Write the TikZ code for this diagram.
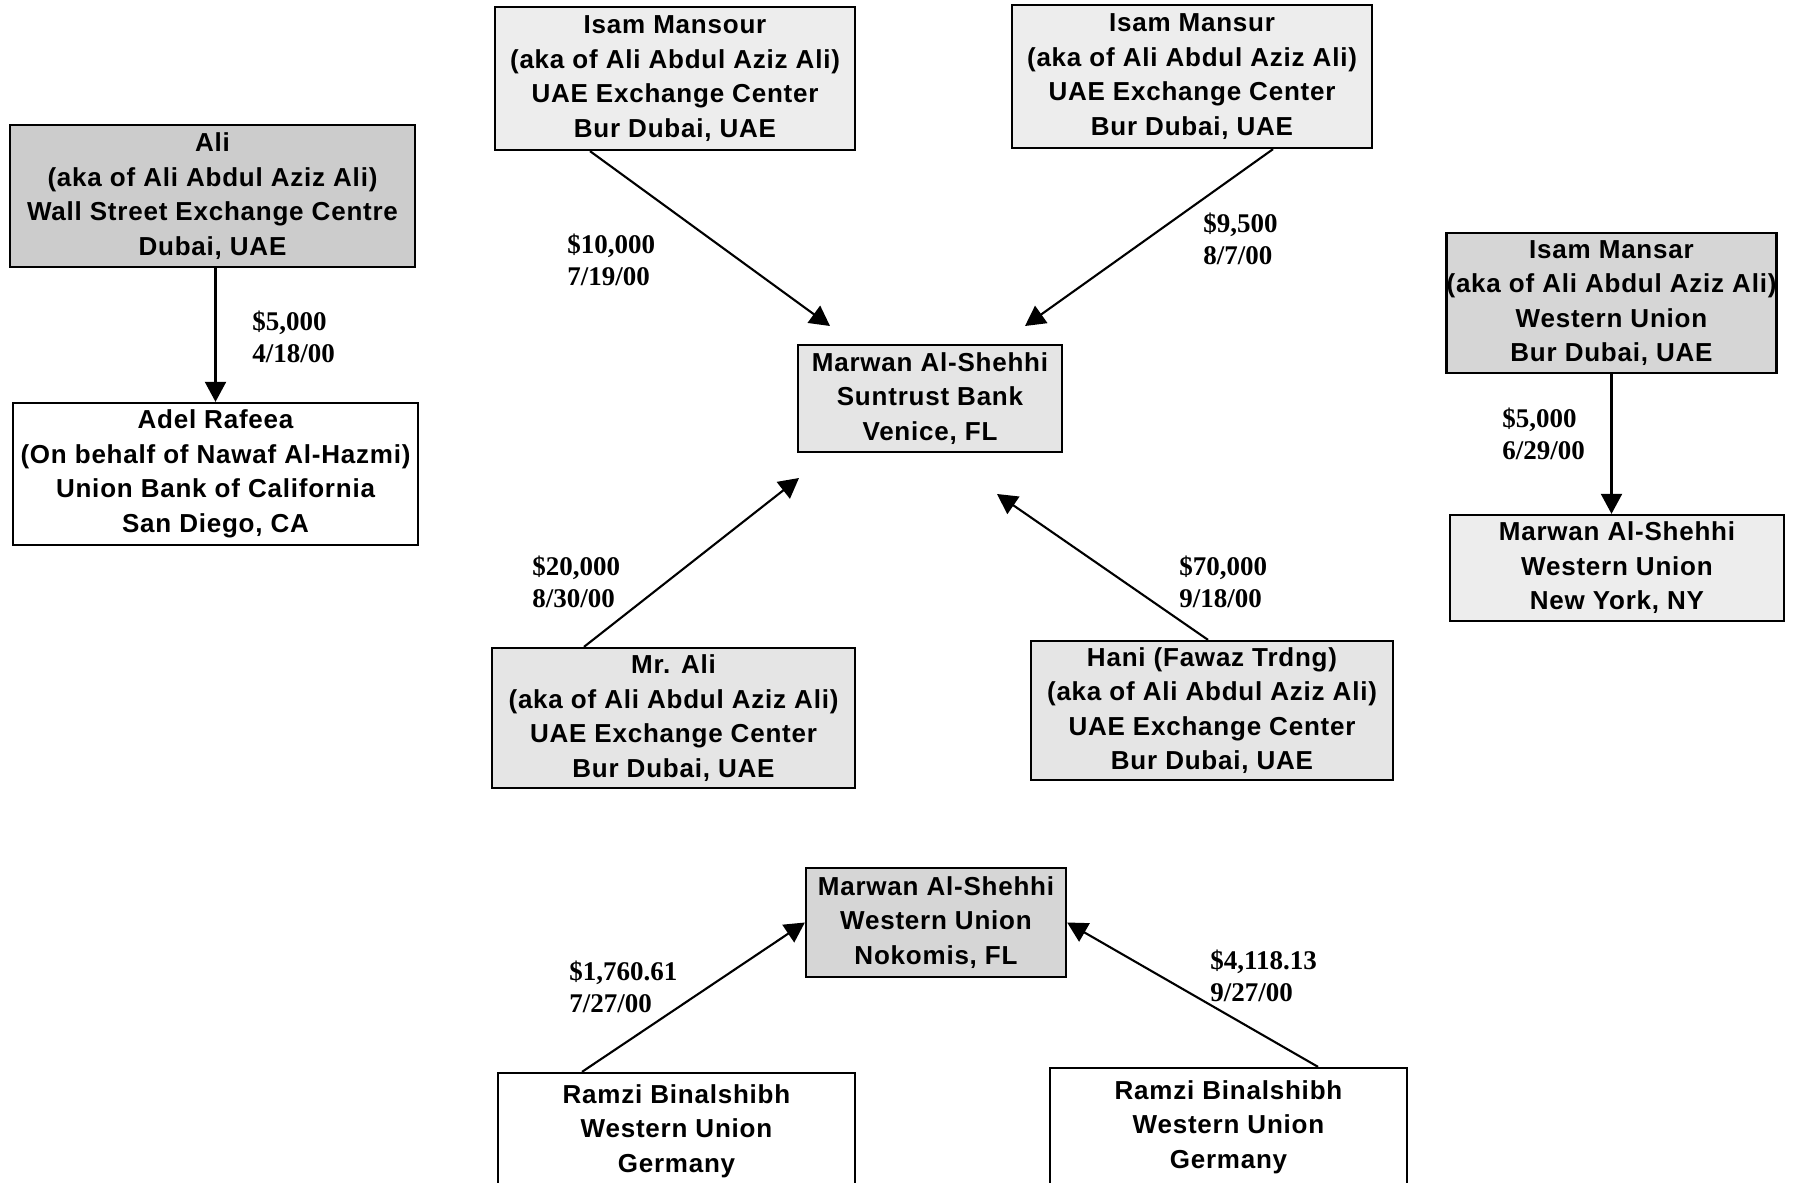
\documentclass[tikz,border=0pt]{standalone}
\usepackage{fontspec}
\setmainfont{Liberation Serif}
\newfontfamily\boxfont[LetterSpace=3]{Liberation Sans}
\usetikzlibrary{arrows.meta,calc}
\definecolor{shadeA}{gray}{0.80}
\definecolor{shadeD}{gray}{0.84}
\definecolor{shadeB}{gray}{0.90}
\definecolor{shadeC}{gray}{0.93}
\tikzset{
  box/.style={draw=black, line width=1.15pt, align=center, inner sep=0pt,
    font=\boxfont\bfseries\fontsize{13}{17.25}\selectfont},
  arr/.style={line width=1.05pt, -{Triangle[length=10pt,width=10.5pt]}},
  lbl/.style={anchor=west, align=left, inner sep=0pt,
    font=\bfseries\fontsize{13.5}{16}\selectfont},
}
\begin{document}
\begin{tikzpicture}[x=0.5pt,y=-0.5pt]
\useasboundingbox (0,0) rectangle (1795,1183);
\clip (0,0) rectangle (1795,1183);
\fill[white] (0,0) rectangle (1795,1183);

% boxes
\node[box, fill=shadeA, minimum width=202.5pt, minimum height=71pt] (ali) at (212.5,196)
  {Ali\\(aka of Ali Abdul Aziz Ali)\\Wall Street Exchange Centre\\Dubai, UAE};
\node[box, fill=white, minimum width=202.5pt, minimum height=71pt] (adel) at (215.5,474)
  {Adel Rafeea\\(On behalf of Nawaf Al-Hazmi)\\Union Bank of California\\San Diego, CA};
\node[box, fill=shadeC, minimum width=180pt, minimum height=71.5pt] (mansour) at (675,78.5)
  {Isam Mansour\\(aka of Ali Abdul Aziz Ali)\\UAE Exchange Center\\Bur Dubai, UAE};
\node[box, fill=shadeC, minimum width=180pt, minimum height=71.5pt] (mansur) at (1192,76.5)
  {Isam Mansur\\(aka of Ali Abdul Aziz Ali)\\UAE Exchange Center\\Bur Dubai, UAE};
\node[box, fill=shadeB, minimum width=132pt, minimum height=53.5pt] (suntrust) at (930,398.5)
  {Marwan Al-Shehhi\\Suntrust Bank\\Venice, FL};
\node[box, fill=shadeD, minimum width=163.5pt, minimum height=70pt] (mansar) at (1611.5,303)
  {Isam Mansar\\(aka of Ali Abdul Aziz Ali)\\Western Union\\Bur Dubai, UAE};
\node[box, fill=shadeC, minimum width=167pt, minimum height=53pt] (nyc) at (1617,568)
  {Marwan Al-Shehhi\\Western Union\\New York, NY};
\node[box, fill=shadeB, minimum width=181.5pt, minimum height=70pt] (mrali) at (673.5,718)
  {Mr. Ali\\(aka of Ali Abdul Aziz Ali)\\UAE Exchange Center\\Bur Dubai, UAE};
\node[box, fill=shadeB, minimum width=181pt, minimum height=69.5pt] (hani) at (1212,710.5)
  {Hani (Fawaz Trdng)\\(aka of Ali Abdul Aziz Ali)\\UAE Exchange Center\\Bur Dubai, UAE};
\node[box, fill=shadeD, minimum width=130pt, minimum height=54.5pt] (nokomis) at (936,922.5)
  {Marwan Al-Shehhi\\Western Union\\Nokomis, FL};
\node[box, fill=white, minimum width=178.5pt, minimum height=58pt] (ramzia) at (676.5,1131)
  {Ramzi Binalshibh\\Western Union\\Germany};
\node[box, fill=white, minimum width=178.5pt, minimum height=59pt] (ramzib) at (1228.5,1127)
  {Ramzi Binalshibh\\Western Union\\Germany};

% free arrow tips
\coordinate (tipA) at (830,326);
\coordinate (tipB) at (1025,326);
\coordinate (tipC) at (799,478);
\coordinate (tipD) at (997,494);

% connectors
\draw[arr] (ali.south -| adel.north) -- (adel.north);
\draw[arr] ([xshift=-42.5pt]mansour.south) -- (tipA);
\draw[arr] ([xshift=40.5pt]mansur.south) -- (tipB);
\draw[arr] ([xshift=-44.75pt]mrali.north) -- (tipC);
\draw[arr] ([xshift=-2pt]hani.north) -- (tipD);
\draw[arr] (mansar.south) -- (mansar.south |- nyc.north);
\draw[arr] ([xshift=-47.25pt]ramzia.north) -- (nokomis.west);
\draw[arr] ([xshift=44.75pt]ramzib.north) -- (nokomis.east);

% labels
\node[lbl] (l1) at (252,336.5) {\$5,000\\4/18/00};
\node[lbl] (l2) at (567,260) {\$10,000\\7/19/00};
\node[lbl] (l3) at (1203,239) {\$9,500\\8/7/00};
\node[lbl] (l4) at (532,582) {\$20,000\\8/30/00};
\node[lbl] (l5) at (1179,582) {\$70,000\\9/18/00};
\node[lbl] (l6) at (1502,433.5) {\$5,000\\6/29/00};
\node[lbl] (l7) at (569,987) {\$1,760.61\\7/27/00};
\node[lbl] (l8) at (1210,975.5) {\$4,118.13\\9/27/00};
\end{tikzpicture}
\end{document}
